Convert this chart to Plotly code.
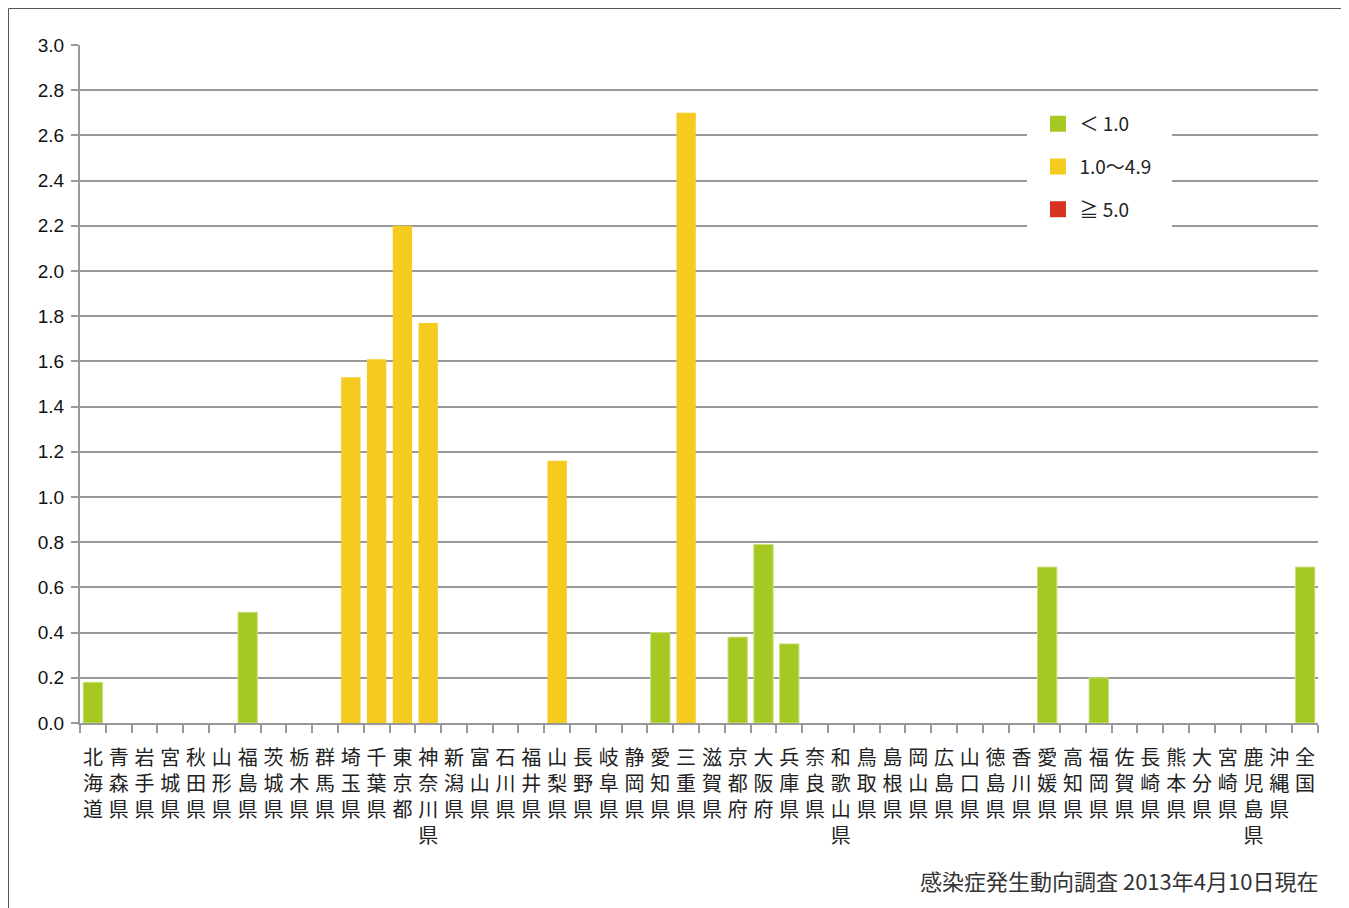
import plotly.graph_objects as go

prefectures = [
    "北海道", "青森県", "岩手県", "宮城県", "秋田県", "山形県", "福島県",
    "茨城県", "栃木県", "群馬県", "埼玉県", "千葉県", "東京都", "神奈川県",
    "新潟県", "富山県", "石川県", "福井県", "山梨県", "長野県", "岐阜県",
    "静岡県", "愛知県", "三重県", "滋賀県", "京都府", "大阪府", "兵庫県",
    "奈良県", "和歌山県", "鳥取県", "島根県", "岡山県", "広島県", "山口県",
    "徳島県", "香川県", "愛媛県", "高知県", "福岡県", "佐賀県", "長崎県",
    "熊本県", "大分県", "宮崎県", "鹿児島県", "沖縄県", "全国",
]
values = [
    0.18, 0, 0, 0, 0, 0, 0.49,
    0, 0, 0, 1.53, 1.61, 2.20, 1.77,
    0, 0, 0, 0, 1.16, 0, 0,
    0, 0.40, 2.70, 0, 0.38, 0.79, 0.35,
    0, 0, 0, 0, 0, 0, 0,
    0, 0, 0.69, 0, 0.20, 0, 0,
    0, 0, 0, 0, 0, 0.69,
]
legend_labels = ["＜ 1.0", "1.0～4.9", "≧ 5.0"]
colors = ["#A5C823", "#F5CB20", "#D6321E"]
source_text = "感染症発生動向調査 2013年4月10日現在"

# vertical tick labels: one character per line
ticktext = ["<br>".join(list(p)) for p in prefectures]


def bucket(v):
    if v < 1.0:
        return 0
    if v < 5.0:
        return 1
    return 2


fig = go.Figure()
for k in range(3):
    ys = [v if (v > 0 and bucket(v) == k) else None for v in values]
    fig.add_trace(go.Bar(
        x=prefectures, y=ys, name=legend_labels[k],
        marker=dict(color=colors[k],
                    line=dict(width=1 if k == 0 else 0, color="#C9E07A")),
        legendgroup=str(k), showlegend=False,
    ))
# legend entries (square swatches)
for k in range(3):
    fig.add_trace(go.Scatter(
        x=[None], y=[None], mode="markers", name=legend_labels[k],
        marker=dict(symbol="square", size=17, color=colors[k]),
        legendgroup=str(k), showlegend=True,
    ))

CJK = "Noto Sans CJK JP"
fig.update_layout(
    width=1341, height=900,
    margin=dict(l=72, r=31, t=37, b=185),
    paper_bgcolor="white", plot_bgcolor="white",
    barmode="relative", bargap=0.25,
    font=dict(family=CJK, color="#222222"),
    showlegend=True,
    legend=dict(
        x=0.7726, y=0.9115, xanchor="left", yanchor="top",
        bgcolor="rgba(0,0,0,0)", borderwidth=0,
        font=dict(family=CJK, size=19, color="#222222"),
        tracegroupgap=15, itemwidth=33, itemsizing="trace",
    ),
    xaxis=dict(
        type="category", tickmode="array", tickvals=prefectures, ticktext=ticktext,
        tickangle=0, showline=True, linecolor="#999999", linewidth=2,
        ticks="outside", tickson="boundaries", ticklen=8, tickwidth=2, tickcolor="#999999",
        tickfont=dict(family=CJK, size=20, color="#222222"),
        ticklabelstandoff=16,
        showgrid=False, fixedrange=True,
    ),
    yaxis=dict(
        range=[0, 3.0], dtick=0.2, tick0=0, tickformat=".1f",
        showline=True, linecolor="#999999", linewidth=2,
        ticks="outside", ticklen=7, tickwidth=2, tickcolor="#999999",
        showgrid=True, gridcolor="#999999", gridwidth=2,
        zeroline=False, ticklabelstandoff=3,
        tickfont=dict(family="Liberation Sans", size=19, color="#111111"),
    ),
)

fig.add_annotation(
    text=source_text, xref="paper", yref="paper",
    x=1.002, y=-0.232, xanchor="right", yanchor="middle", showarrow=False,
    font=dict(family=CJK, size=22, color="#333333"),
)

# white panel behind the legend (interrupts the grid lines)
fig.add_shape(type="rect", xref="paper", yref="paper",
              x0=(1027 - 80) / 1238, x1=(1172 - 80) / 1238,
              y0=(723 - 228) / 678, y1=(723 - 96) / 678,
              line=dict(width=0), fillcolor="white", layer="above")

# outer frame (bottom edge runs off the page, as in the reference)
fig.add_shape(type="rect", xref="paper", yref="paper",
              x0=(8.5 - 80) / 1238, x1=(1343 - 80) / 1238,
              y0=(723 - 930) / 678, y1=(723 - 8.5) / 678,
              line=dict(color="#555555", width=1), fillcolor="rgba(0,0,0,0)",
              layer="above")

fig.write_html("out.html")
